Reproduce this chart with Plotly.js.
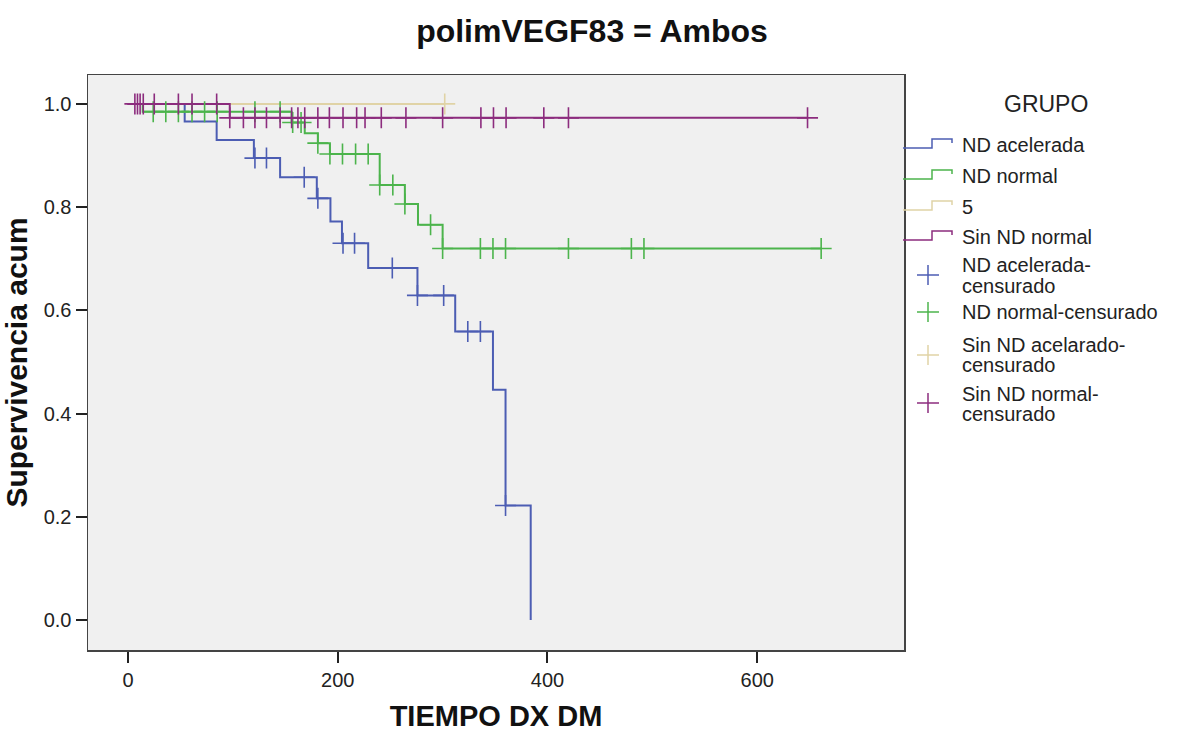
<!DOCTYPE html>
<html>
<head>
<meta charset="utf-8">
<script src="https://cdn.plot.ly/plotly-3.0.1.min.js"></script>
<style>html,body{margin:0;padding:0;background:#fff;}#chart{width:1177px;height:734px;}</style>
</head>
<body>
<div id="chart"></div>
<script>
// ND acelerada: event times and survival levels, censored times
const blueTimes = [0, 54, 84.5, 120, 145, 180, 193, 204, 229, 276, 312, 348, 360, 384];
const blueSurv  = [1.0, 0.966, 0.930, 0.895, 0.858, 0.817, 0.772, 0.730, 0.682, 0.629, 0.559, 0.446, 0.222, 0.0];
const blueCens  = [121, 132, 168, 181, 205, 216, 252, 276, 301, 324, 336, 360];

// ND normal
const greenTimes = [0, 14, 156, 168.5, 181, 192.5, 240, 264, 276.5, 300];
const greenSurv  = [1.0, 0.985, 0.964, 0.943, 0.924, 0.903, 0.843, 0.806, 0.766, 0.720];
const greenCens  = [24, 36, 48, 61, 73, 85, 121, 145, 157, 165, 181, 192.5, 204.5, 217, 229, 240, 252.5, 264, 288.5, 300, 336, 348, 360, 420, 480, 492, 661];

// 5 (Sin ND acelarado)
const beigeTimes = [0];
const beigeSurv  = [1.0];
const beigeCens  = [302];

// Sin ND normal
const purpleTimes = [0, 97];
const purpleSurv  = [1.0, 0.973];
const purpleCens  = [6.5, 9, 11.5, 14.5, 25, 48, 61, 84.5, 97, 110, 121, 132, 145, 156, 162, 168.5, 181, 192, 205, 218, 226, 241.5, 265, 300, 336.5, 348.5, 360.5, 396.5, 420, 648];

const xTicks = [0, 200, 400, 600];
const yTicks = [0.0, 0.2, 0.4, 0.6, 0.8, 1.0];

const legendTitle = "GRUPO";
const lineNames = ["ND acelerada", "ND normal", "5", "Sin ND normal"];
const censNames = [["ND acelerada-", "censurado"], ["ND normal-censurado"], ["Sin ND acelarado-", "censurado"], ["Sin ND normal-", "censurado"]];
const colors = ["#4c5db3", "#4cb44c", "#e0d3a6", "#8c2c7e"];

function stepAt(T, S, t) {
  let v = S[0];
  for (let i = 0; i < T.length; i++) if (t >= T[i]) v = S[i];
  return v;
}
function lineXY(T, S, C) {
  const x = T.slice(), y = S.slice();
  const lastC = Math.max.apply(null, C);
  if (lastC > T[T.length - 1]) { x.push(lastC); y.push(S[S.length - 1]); }
  return {x, y};
}

const groups = [
  [blueTimes, blueSurv, blueCens],
  [greenTimes, greenSurv, greenCens],
  [beigeTimes, beigeSurv, beigeCens],
  [purpleTimes, purpleSurv, purpleCens]
];

const traces = [];
groups.forEach((g, i) => {
  const xy = lineXY(g[0], g[1], g[2]);
  traces.push({
    x: xy.x, y: xy.y, type: 'scatter', mode: 'lines',
    line: {shape: 'hv', color: colors[i], width: 2},
    name: lineNames[i], showlegend: false, hoverinfo: 'skip'
  });
});
groups.forEach((g, i) => {
  traces.push({
    x: g[2], y: g[2].map(t => stepAt(g[0], g[1], t)), type: 'scatter', mode: 'markers',
    marker: {symbol: 'cross-thin', size: 15, color: colors[i], line: {color: colors[i], width: 1.6}},
    name: censNames[i].join(''), showlegend: false, hoverinfo: 'skip'
  });
});

// ---- page geometry (pixels) for the hand-built legend ----
const M = {l: 88, r: 273, t: 75, b: 84};
const W = 1177, H = 734;
const PW = W - M.l - M.r, PH = H - M.t - M.b;
const px = x => (x - M.l) / PW;
const py = y => (H - M.b - y) / PH;

const F = '"Liberation Sans", Arial, sans-serif';
const LF = 20;
const shapes = [], annotations = [];

annotations.push({xref: 'paper', yref: 'paper', x: px(1046), y: py(104), text: legendTitle,
  showarrow: false, xanchor: 'center', yanchor: 'middle', font: {family: F, size: 23, color: '#222'}});

const lineRowY = [145, 176, 207, 237];
lineNames.forEach((n, i) => {
  const yb = lineRowY[i] + 3, yt = lineRowY[i] - 6, yr = lineRowY[i] - 2;
  shapes.push({type: 'path', xref: 'paper', yref: 'paper',
    path: `M ${px(903)},${py(yb)} L ${px(932)},${py(yb)} L ${px(932)},${py(yt)} L ${px(952)},${py(yt)} L ${px(952)},${py(yr)}`,
    line: {color: colors[i], width: 1.5}});
  annotations.push({xref: 'paper', yref: 'paper', x: px(960), y: py(lineRowY[i]), text: n,
    showarrow: false, xanchor: 'left', yanchor: 'middle', font: {family: F, size: LF, color: '#222'}});
});

const censRows = [[265, 286], [312], [345, 365], [394, 414]];
const crossY = [275, 312, 355, 403];
censNames.forEach((lines, i) => {
  const cx = 928, cy = crossY[i];
  shapes.push({type: 'line', xref: 'paper', yref: 'paper', x0: px(cx - 11), x1: px(cx + 11), y0: py(cy), y1: py(cy),
    line: {color: colors[i], width: 1.5}});
  shapes.push({type: 'line', xref: 'paper', yref: 'paper', x0: px(cx), x1: px(cx), y0: py(cy - 10), y1: py(cy + 10),
    line: {color: colors[i], width: 1.5}});
  lines.forEach((t, j) => {
    annotations.push({xref: 'paper', yref: 'paper', x: px(960), y: py(censRows[i][j]), text: t,
      showarrow: false, xanchor: 'left', yanchor: 'middle', font: {family: F, size: LF, color: '#222'}});
  });
});

const layout = {
  width: W, height: H,
  paper_bgcolor: '#ffffff', plot_bgcolor: '#f0f0f0',
  margin: {l: M.l, r: M.r, t: M.t, b: M.b, pad: 0},
  font: {family: F, color: '#111', size: 16},
  showlegend: false,
  title: {text: '<b>polimVEGF83 = Ambos</b>', font: {family: F, size: 32, color: '#111'},
          xref: 'container', x: 0.503, xanchor: 'center', yref: 'container', y: 0.958, yanchor: 'middle'},
  xaxis: {
    range: [-38.2, 740], tickvals: xTicks, ticktext: xTicks.map(String),
    showgrid: false, zeroline: false, showline: true, mirror: true, linecolor: '#444', linewidth: 1.5,
    ticks: 'outside', ticklen: 11, tickwidth: 2, tickcolor: '#222',
    tickfont: {family: F, size: 20, color: '#222'},
    title: {text: '<b>TIEMPO DX DM</b>', font: {family: F, size: 29, color: '#111'}, standoff: 16}
  },
  yaxis: {
    range: [-0.058, 1.056], tickvals: yTicks, ticktext: yTicks.map(v => v.toFixed(1)),
    showgrid: false, zeroline: false, showline: true, mirror: true, linecolor: '#444', linewidth: 1.5,
    ticks: 'outside', ticklen: 11, tickwidth: 2, tickcolor: '#222',
    tickfont: {family: F, size: 20, color: '#222'},
    title: {text: '<b>Supervivencia acum</b>', font: {family: F, size: 30, color: '#111'}, standoff: 8}
  },
  shapes: shapes,
  annotations: annotations
};

Plotly.newPlot('chart', traces, layout, {displayModeBar: false, staticPlot: true});
</script>
</body>
</html>
